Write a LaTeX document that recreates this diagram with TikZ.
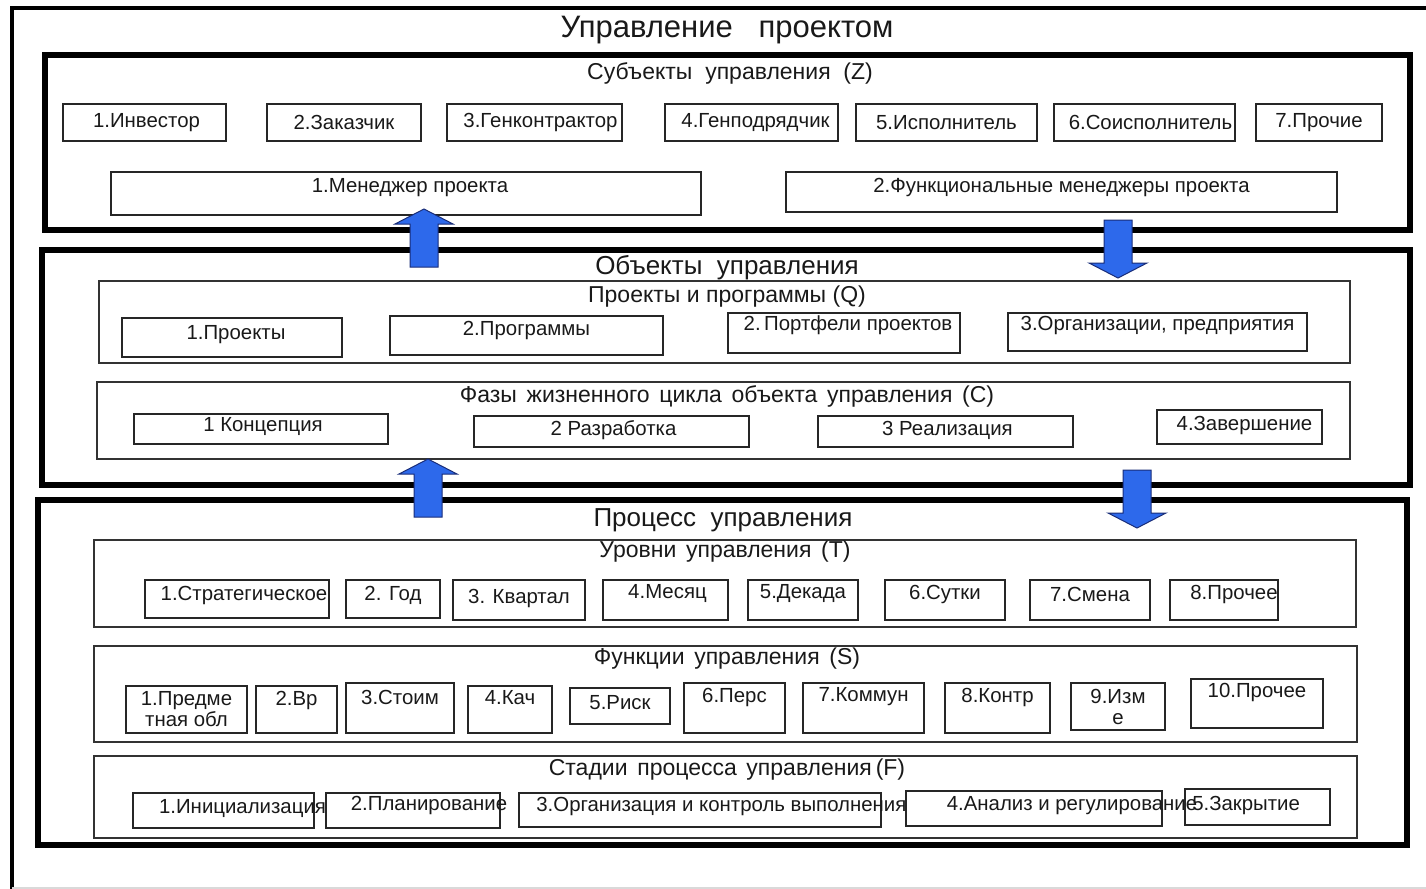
\documentclass[tikz,border=0pt]{standalone}
\usepackage{fontspec}
\setmainfont{Liberation Sans}
\usetikzlibrary{fit}

\newcommand{\itemfont}{\fontsize{10.2}{10.5}\selectfont}
\newcommand{\groupfont}{\fontsize{11.5}{13}\selectfont}
\newcommand{\sectfont}{\fontsize{13}{15}\selectfont}
\newcommand{\titlefont}{\fontsize{15.5}{18}\selectfont}
\newcommand{\gap}{\hspace{0.42em}}

\definecolor{arrowblue}{RGB}{45,105,235}
\definecolor{arrowedge}{RGB}{25,45,120}

\begin{document}
\begin{tikzpicture}[x=0.5pt, y=-0.5pt,
    outerframe/.style={draw=black, line width=2pt},
    sectionbox/.style={draw=black, line width=2.6pt, inner sep=0pt},
    groupbox/.style={draw=black!80, line width=0.8pt, inner sep=0pt},
    itembox/.style={draw=black!85, line width=0.8pt, inner sep=0pt},
    itemtext/.style={font=\itemfont, text=black!90, inner sep=0pt},
    grouptitle/.style={font=\groupfont, text=black!90},
    secttitle/.style={font=\sectfont, text=black!90},
    blockarrow/.pic={
        \filldraw[fill=arrowblue, draw=arrowedge, line width=0.5pt]
            (-14,0) -- (-14,-43) -- (-29,-43) -- (0,-58) -- (29,-43) -- (14,-43) -- (14,0) -- cycle;
    }
]
\useasboundingbox (0,0) rectangle (1426,889);

% outer frame
\draw[outerframe] (1440,8) -- (12,8) -- (12,900);
\draw[black!15, line width=0.6pt] (12,888) -- (1426,888);
\node[font=\titlefont, text=black!90] (title) at (727,30) {Управление~~~проектом};

% === Субъекты управления ===
\node[sectionbox, fit={(45,55) (1410,230)}] (subj) {};
\node[grouptitle] (subjt) at (730,73) {Субъекты~~управления~~(Z)};
\node[itembox, fit={(63,104) (226,141)}, label={[itemtext, xshift=1pt]center:1.Инвестор}] (inv) {};
\node[itembox, fit={(267,104) (421,141)}, label={[itemtext]center:2.Заказчик}] (cust) {};
\node[itembox, fit={(447,104) (622,141)}, label={[itemtext, xshift=3pt]center:3.Генконтрактор}] (gcon) {};
\node[itembox, fit={(665,104) (838,141)}, label={[itemtext, xshift=2pt]center:4.Генподрядчик}] (gsub) {};
\node[itembox, fit={(856,104) (1037,141)}, label={[itemtext]center:5.Исполнитель}] (exec) {};
\node[itembox, fit={(1054,104) (1235,141)}, label={[itemtext, xshift=3pt]center:6.Соисполнитель}] (coex) {};
\node[itembox, fit={(1256,104) (1382,141)}, label={[itemtext]center:7.Прочие}] (othz) {};
\node[itembox, fit={(111,172) (701,215)}, label={[itemtext, xshift=2pt, yshift=3pt]center:1.Менеджер проекта}] (pm) {};
\node[itembox, fit={(786,172) (1337,212)}, label={[itemtext, yshift=2.5pt]center:2.Функциональные менеджеры проекта}] (fm) {};

% === Объекты управления ===
\node[sectionbox, fit={(42,250) (1410,485)}] (obj) {};
\node[secttitle] (objt) at (727,268) {Объекты~~управления};

\node[groupbox, fit={(99,281) (1350,363)}] (prog) {};
\node[grouptitle] (progt) at (727,297) {Проекты и программы (Q)};
\node[itembox, fit={(122,318) (342,357)}, label={[itemtext, xshift=2pt, yshift=1.5pt]center:1.Проекты}] (proj) {};
\node[itembox, fit={(390,316) (663,355)}, label={[itemtext, yshift=2.5pt]center:2.Программы}] (progs) {};
\node[itembox, fit={(728,313) (960,353)}, label={[itemtext, xshift=2pt, yshift=4pt]center:2.\,Портфели проектов}] (port) {};
\node[itembox, fit={(1008,313) (1307,351)}, label={[itemtext, yshift=3.5pt]center:{3.Организации, предприятия}}] (org) {};

\node[groupbox, fit={(97,382) (1350,459)}] (life) {};
\node[grouptitle] (lifet) at (727,396) {Фазы\gap жизненного\gap цикла\gap объекта\gap управления\gap (C)};
\node[itembox, fit={(134,414) (388,444)}, label={[itemtext, xshift=1pt, yshift=1pt]center:1 Концепция}] (conc) {};
\node[itembox, fit={(474,416) (749,447)}, label={[itemtext, xshift=1pt, yshift=0.7pt]center:2 Разработка}] (dev) {};
\node[itembox, fit={(818,416) (1073,447)}, label={[itemtext, xshift=1pt, yshift=0.7pt]center:3 Реализация}] (impl) {};
\node[itembox, fit={(1157,410) (1322,444)}, label={[itemtext, xshift=2.5pt, yshift=1pt]center:4.Завершение}] (fin) {};

% === Процесс управления ===
\node[sectionbox, fit={(38,500) (1407,845)}] (proc) {};
\node[secttitle] (proct) at (723,520) {Процесс~~управления};

\node[groupbox, fit={(94,540) (1356,627)}] (lev) {};
\node[grouptitle] (levt) at (725,552) {Уровни\gap управления\gap (T)};
\node[itembox, fit={(145,580) (329,618)}, label={[itemtext, xshift=3.5pt, yshift=2pt]center:1.Стратегическое}] (strat) {};
\node[itembox, fit={(346,580) (440,618)}, label={[itemtext, yshift=2pt]center:2. Год}] (year) {};
\node[itembox, fit={(453,580) (585,620)}, label={[itemtext, yshift=1pt]center:3. Квартал}] (qrt) {};
\node[itembox, fit={(603,580) (728,620)}, label={[itemtext, xshift=1pt, yshift=3pt]center:4.Месяц}] (month) {};
\node[itembox, fit={(748,580) (858,620)}, label={[itemtext, yshift=3pt]center:5.Декада}] (dec) {};
\node[itembox, fit={(885,580) (1005,620)}, label={[itemtext, yshift=3pt]center:6.Сутки}] (day) {};
\node[itembox, fit={(1030,580) (1150,620)}, label={[itemtext, yshift=3pt]center:7.Смена}] (shift) {};
\node[itembox, fit={(1170,580) (1278,620)}, label={[itemtext, xshift=5pt, yshift=3pt]center:8.Прочее}] (otht) {};

\node[groupbox, fit={(94,646) (1357,742)}] (func) {};
\node[grouptitle] (funct) at (727,659) {Функции\gap управления\gap (S)};
\node[itembox, fit={(126,686) (247,733)}, label={[itemtext, align=center]center:{1.Предме\\тная обл}}] (scope) {};
\node[itembox, fit={(256,686) (337,733)}, label={[itemtext, yshift=4.5pt]center:2.Вр}] (time) {};
\node[itembox, fit={(346,683) (454,733)}, label={[itemtext, yshift=5.5pt]center:3.Стоим}] (cost) {};
\node[itembox, fit={(468,686) (552,733)}, label={[itemtext, yshift=6pt]center:4.Кач}] (qual) {};
\node[itembox, fit={(570,688) (670,724)}, label={[itemtext, yshift=1.5pt]center:5.Риск}] (risk) {};
\node[itembox, fit={(684,683) (785,733)}, label={[itemtext, yshift=5.5pt]center:6.Перс}] (staff) {};
\node[itembox, fit={(803,683) (924,733)}, label={[itemtext, yshift=5.5pt]center:7.Коммун}] (comm) {};
\node[itembox, fit={(945,683) (1050,733)}, label={[itemtext, yshift=5.5pt]center:8.Контр}] (ctrl) {};
\node[itembox, fit={(1071,683) (1165,730)}, label={[itemtext, align=center]center:{9.Изм\\е}}] (chg) {};
\node[itembox, fit={(1191,679) (1323,728)}, label={[itemtext, yshift=5.5pt]center:10.Прочее}] (oths) {};

\node[groupbox, fit={(94,756) (1357,838)}] (stage) {};
\node[grouptitle] (staget) at (727,770) {Стадии\gap процесса\gap управления\,(F)};
\node[itembox, fit={(133,793) (314,828)}, label={[itemtext, xshift=9.5pt, yshift=1pt]center:1.Инициализация}] (init) {};
\node[itembox, fit={(326,793) (500,828)}, label={[itemtext, xshift=8pt, yshift=2.5pt]center:2.Планирование}] (plan) {};
\node[itembox, fit={(519,793) (881,827)}, label={[itemtext, xshift=10.7pt, yshift=2pt]center:3.Организация и контроль выполнения}] (run) {};
\node[itembox, fit={(906,791) (1162,826)}, label={[itemtext, xshift=19pt, yshift=1.7pt]center:4.Анализ и регулирование}] (anl) {};
\node[itembox, fit={(1185,789) (1330,825)}, label={[itemtext, xshift=-5.7pt, yshift=1pt]center:5.Закрытие}] (close) {};

% block arrows between sections
\pic (upA) at (424,267) {blockarrow};
\pic[rotate=180] (dnA) at (1118,220) {blockarrow};
\pic (upB) at (428,517) {blockarrow};
\pic[rotate=180] (dnB) at (1137,470) {blockarrow};

\end{tikzpicture}
\end{document}
